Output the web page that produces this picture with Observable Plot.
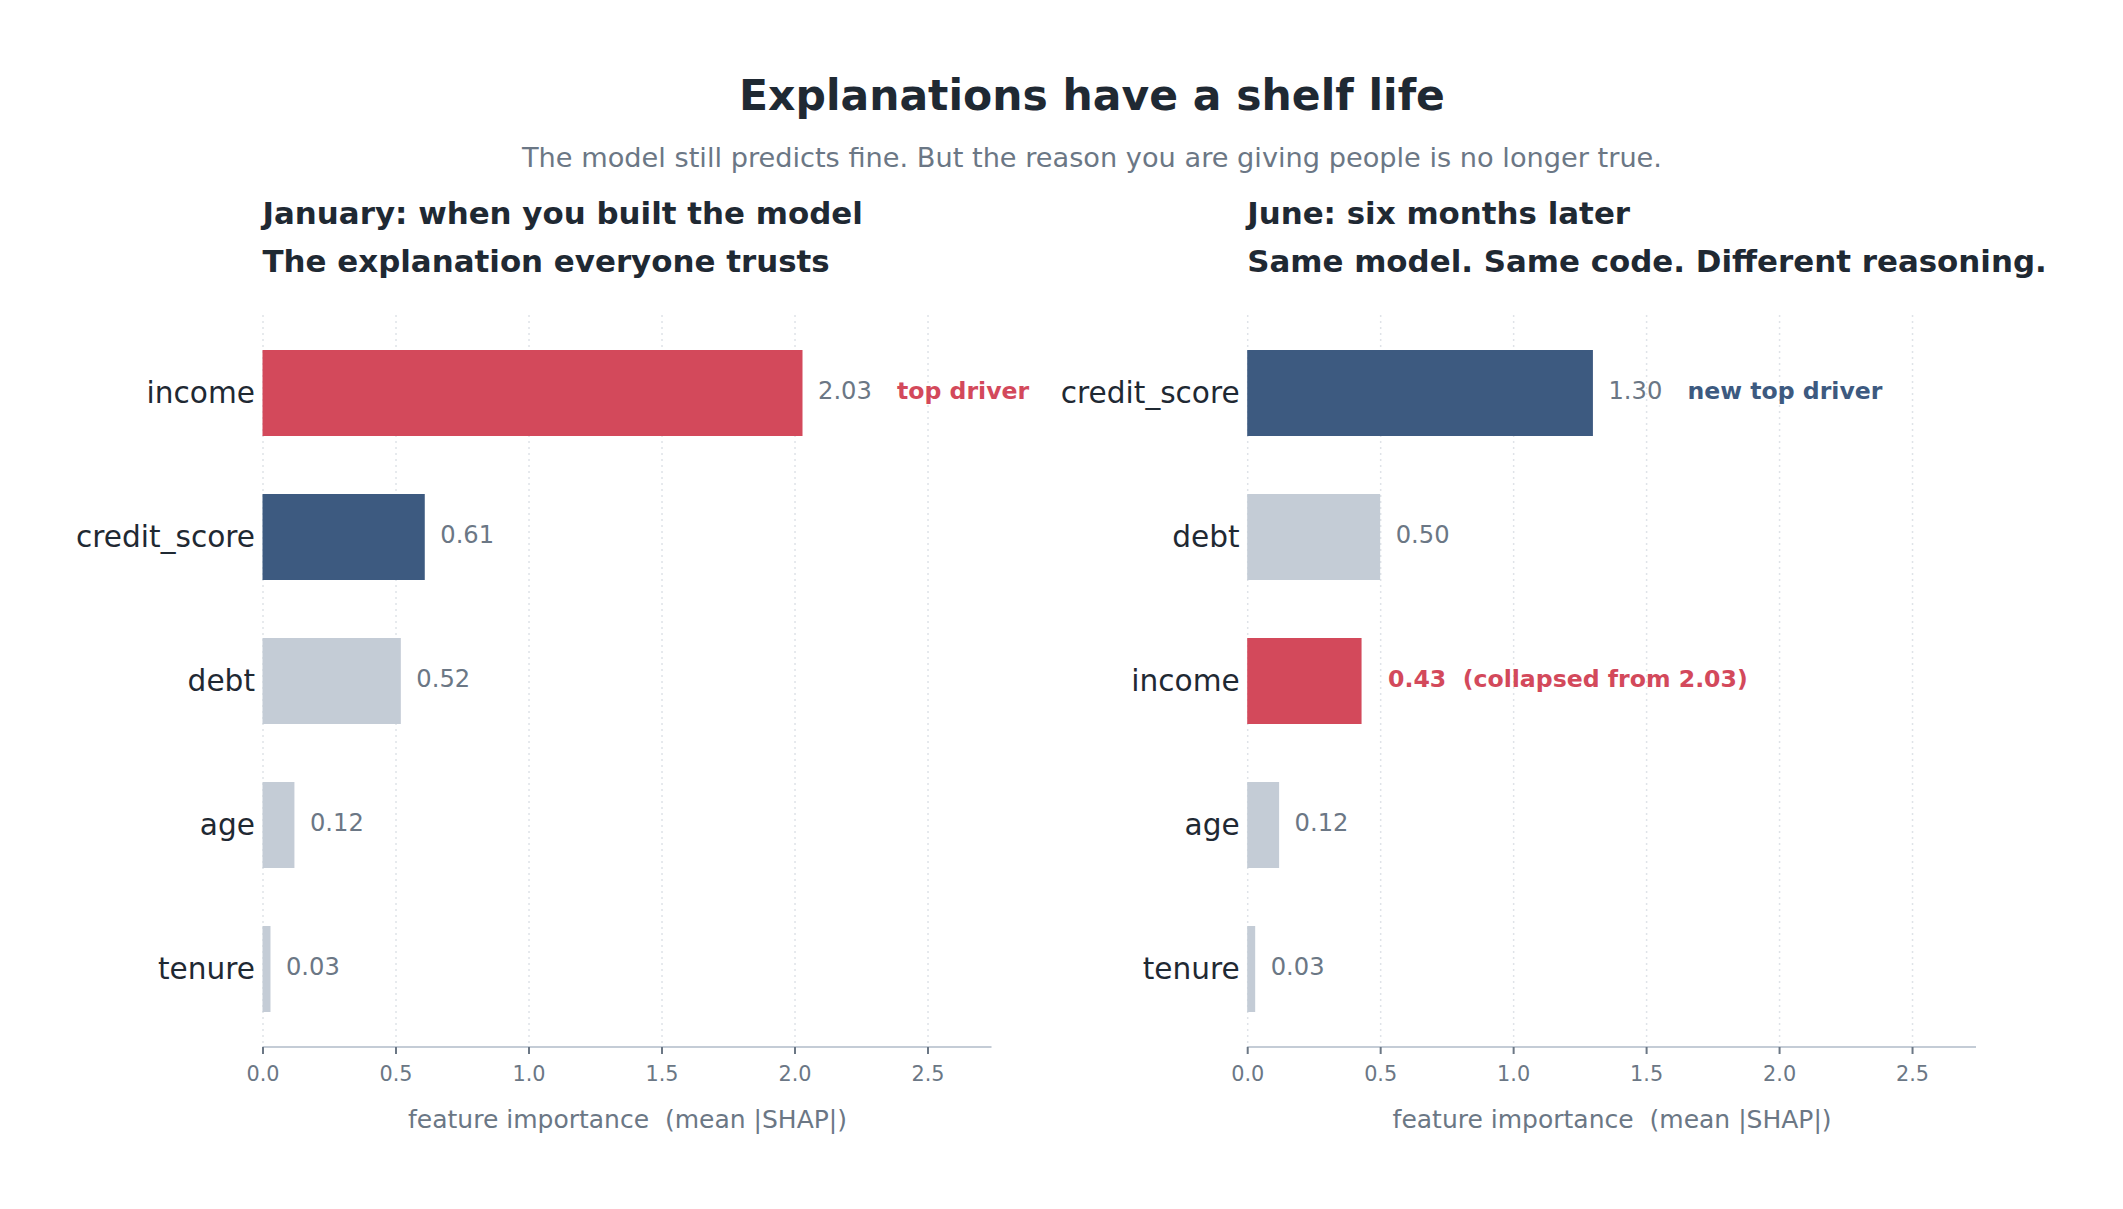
<!DOCTYPE html>
<html>
<head>
<meta charset="utf-8">
<script src="https://cdn.jsdelivr.net/npm/d3@7"></script>
<script src="https://cdn.jsdelivr.net/npm/@observablehq/plot@0.6"></script>
<style>
  html, body { margin: 0; padding: 0; background: #ffffff; }
  #page { position: relative; width: 2123px; height: 1209px; overflow: hidden; background: #ffffff;
          font-family: "DejaVu Sans", sans-serif; }
  .txt { position: absolute; white-space: pre; line-height: 1; }
  .center { transform: translateX(-50%); }
  .panel { position: absolute; top: 290px; }
  .panel svg { display: block; overflow: visible; }
</style>
</head>
<body>
<div id="page">
  <div class="txt center" style="left:1092px; top:75px; font-size:42.5px; font-weight:bold; color:#1f2933;">Explanations have a shelf life</div>
  <div class="txt center" style="left:1092px; top:144px; font-size:27.2px; color:#6b7785;">The model still predicts fine. But the reason you are giving people is no longer true.</div>

  <div class="txt" style="left:262.5px; top:198px; font-size:30.9px; font-weight:bold; color:#1f2933;">January: when you built the model</div>
  <div class="txt" style="left:262.5px; top:246px; font-size:30.9px; font-weight:bold; color:#1f2933;">The explanation everyone trusts</div>
  <div class="txt" style="left:1247.2px; top:198px; font-size:30.9px; font-weight:bold; color:#1f2933;">June: six months later</div>
  <div class="txt" style="left:1247.2px; top:246px; font-size:30.9px; font-weight:bold; color:#1f2933;">Same model. Same code. Different reasoning.</div>

  <div id="left" class="panel" style="left:0px;"></div>
  <div id="right" class="panel" style="left:1060px;"></div>
</div>
<script>
// Mean |SHAP| feature importance, sorted largest first within each month
const janFeatures = ["income", "credit_score", "debt", "age", "tenure"];
const janValues = [2.03, 0.61, 0.52, 0.12, 0.03];
const junFeatures = ["credit_score", "debt", "income", "age", "tenure"];
const junValues = [1.30, 0.50, 0.43, 0.12, 0.03];
const xTicks = [0, 0.5, 1.0, 1.5, 2.0, 2.5];
const xLabel = "feature importance \u00a0(mean |SHAP|)";

// Palette
const RED = "#d3495b";
const NAVY = "#3d5a80";
const GREY_BAR = "#c4ccd6";
const INK = "#1f2933";
const MUTED = "#6b7785";
const featureColor = f => f === "income" ? RED : f === "credit_score" ? NAVY : GREY_BAR;

const xMax = d3.max(janValues) * 1.35;
const janIncome = janValues[janFeatures.indexOf("income")];

// Bottom spine drawn along the lower edge of the frame
const spine = (index, scales, values, dims) => {
  const g = d3.create("svg:line")
    .attr("x1", dims.marginLeft)
    .attr("x2", dims.width - dims.marginRight)
    .attr("y1", dims.height - dims.marginBottom)
    .attr("y2", dims.height - dims.marginBottom)
    .attr("stroke", GREY_BAR)
    .attr("stroke-width", 2.2);
  return g.node();
};

function panel({features, values, width, marginLeft, marginRight, notes, valueText}) {
  const rows = features.map((f, i) => ({feature: f, value: values[i]}));
  const labelStyle = {x: "value", y: "feature", textAnchor: "start", lineAnchor: "middle", dy: -2.5, fontSize: 23.6};
  return Plot.plot({
    width,
    height: 900,
    marginLeft,
    marginRight,
    marginTop: 25,
    marginBottom: 143,
    style: {fontFamily: "DejaVu Sans", background: "transparent", overflow: "visible"},
    x: {domain: [0, xMax]},
    y: {domain: features, paddingInner: 0.4, paddingOuter: 0.23},
    color: {type: "identity"},
    marks: [
      Plot.gridX(xTicks, {stroke: "#dfe3e8", strokeOpacity: 1, strokeWidth: 1.5, strokeDasharray: "2 4"}),
      Plot.barX(rows, {x: "value", y: "feature", fill: d => featureColor(d.feature)}),
      spine,
      Plot.axisX(xTicks, {
        tickSize: 7, tickPadding: 11.5, fontSize: 20.8, color: MUTED, strokeWidth: 2,
        tickFormat: d => d.toFixed(1), label: null
      }),
      Plot.axisY({tickSize: 0, tickPadding: 8, fontSize: 29.6, color: INK, label: null}),
      Plot.text([xLabel], {frameAnchor: "bottom", dy: 72, lineAnchor: "middle", fontSize: 25, fill: MUTED}),
      Plot.text(rows.filter(d => !valueText || !valueText[d.feature]), {
        ...labelStyle, text: d => d.value.toFixed(2), dx: 15, fontSize: 24.2, fill: MUTED
      }),
      ...(valueText ? [Plot.text(rows.filter(d => valueText[d.feature]), {
        ...labelStyle, text: d => valueText[d.feature](d.value), dx: 26, fontWeight: "bold",
        fill: d => featureColor(d.feature)
      })] : []),
      Plot.text(rows.filter(d => notes[d.feature]), {
        ...labelStyle, text: d => notes[d.feature], dx: 94, fontWeight: "bold",
        fill: d => featureColor(d.feature)
      })
    ]
  });
}

document.getElementById("left").append(panel({
  features: janFeatures, values: janValues,
  width: 1060, marginLeft: 262.5, marginRight: 68.5,
  notes: {income: "top driver"}
}));

document.getElementById("right").append(panel({
  features: junFeatures, values: junValues,
  width: 1063, marginLeft: 187.2, marginRight: 147,
  notes: {credit_score: "new top driver"},
  valueText: {income: v => `${v.toFixed(2)} \u00a0(collapsed from ${janIncome.toFixed(2)})`}
}));
</script>
</body>
</html>
